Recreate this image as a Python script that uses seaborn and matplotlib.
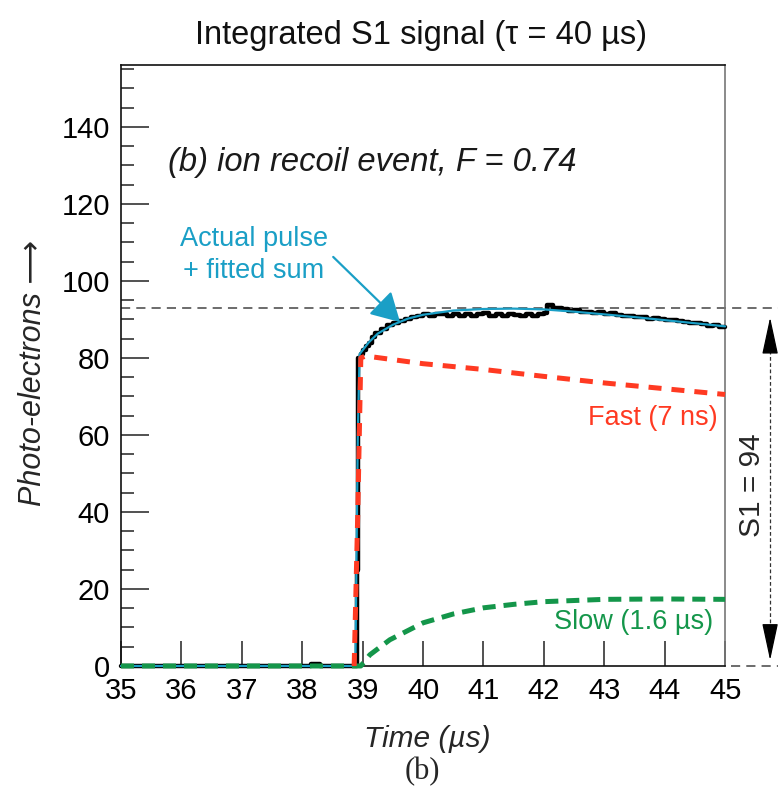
import matplotlib
matplotlib.use("Agg")
import matplotlib.pyplot as plt
import seaborn as sns
import pandas as pd

# -----------------------------------
# DATA
# -----------------------------------
pulse_t = [35.0, 36.0, 37.0, 38.0, 38.15, 38.3, 38.88, 38.9, 38.93, 38.97, 39.0, 39.05,
           39.1, 39.15, 39.2, 39.3, 39.4, 39.5, 39.6, 39.7, 39.8, 39.9, 40.0, 40.1,
           40.2, 40.3, 40.4, 40.5, 40.6, 40.7, 40.8, 40.9, 41.0, 41.1, 41.2, 41.3,
           41.4, 41.5, 41.6, 41.7, 41.8, 41.9, 42.0, 42.05, 42.15, 42.3, 42.4, 42.5,
           42.6, 42.7, 42.8, 42.9, 43.0, 43.1, 43.2, 43.3, 43.4, 43.5, 43.6, 43.7,
           43.8, 43.9, 44.0, 44.1, 44.2, 44.3, 44.4, 44.5, 44.6, 44.7, 44.8, 44.9, 45.0]
pulse_pe = [0.0, 0.0, 0.0, 0.0, 0.5, 0.0, 0.0, 25.0, 80.0, 81.0, 82.0, 83.0,
            84.0, 85.5, 86.5, 87.5, 88.5, 89.0, 89.5, 90.0, 90.5, 91.0, 91.5, 91.0,
            91.5, 91.5, 91.0, 91.5, 91.0, 91.5, 91.0, 91.3, 91.6, 91.0, 91.4, 91.0,
            91.5, 91.2, 90.8, 91.3, 91.0, 91.4, 91.6, 93.8, 93.0, 92.6, 92.3, 92.4,
            92.0, 91.9, 91.6, 91.8, 91.3, 91.6, 91.2, 90.9, 91.0, 90.5, 90.7, 90.2,
            90.4, 90.0, 89.8, 89.9, 89.5, 89.3, 89.0, 89.1, 88.7, 88.4, 88.5, 88.1, 88.0]

fit_t = [35.0, 38.88, 38.92, 38.95, 39.0, 39.1, 39.25, 39.5, 39.75, 40.0, 40.5,
         41.0, 41.5, 42.0, 42.5, 43.0, 43.5, 44.0, 44.5, 45.0]
fit_pe = [0.0, 0.0, 60.0, 81.0, 82.0, 84.0, 86.3, 88.6, 90.2, 91.2, 92.3,
          92.7, 92.8, 92.6, 92.0, 91.3, 90.6, 89.8, 89.0, 88.2]

fast_t = [38.86, 38.92, 38.97, 39.05, 40.0, 41.0, 42.0, 43.0, 44.0, 45.0]
fast_pe = [0.0, 40.0, 80.0, 80.5, 78.5, 77.0, 75.2, 73.5, 72.0, 70.5]

slow_t = [35.0, 38.97, 39.12, 39.45, 40.0, 40.5, 41.0, 41.5, 42.0, 43.0, 44.0, 45.0]
slow_pe = [0.0, 0.0, 2.9, 6.8, 11.2, 13.5, 15.1, 16.0, 16.7, 17.3, 17.4, 17.3]

s1_level = 93.0
s1_label = "S1 = 94"
x_ticks = [35, 36, 37, 38, 39, 40, 41, 42, 43, 44, 45]
y_ticks = [0, 20, 40, 60, 80, 100, 120, 140]

# -----------------------------------
# VISUAL SETTINGS
# -----------------------------------
sns.set_style("ticks")
plt.rcParams["font.family"] = ["Liberation Sans", "DejaVu Sans"]

CYAN = "#1a9fc6"
RED = "#ff3a22"
GREEN = "#14964a"

fig, ax = plt.subplots(figsize=(7.78, 7.86), dpi=100)
fig.subplots_adjust(left=0.1555, right=0.932, bottom=0.1527, top=0.917)

pulse = pd.DataFrame({"t": pulse_t, "pe": pulse_pe})
fit = pd.DataFrame({"t": fit_t, "pe": fit_pe})
fast = pd.DataFrame({"t": fast_t, "pe": fast_pe})
slow = pd.DataFrame({"t": slow_t, "pe": slow_pe})

# -----------------------------------
# CURVES
# -----------------------------------
sns.lineplot(data=pulse, x="t", y="pe", ax=ax, color="black", lw=3.2,
             drawstyle="steps-post", estimator=None, sort=False, clip_on=False, zorder=3)
sns.lineplot(data=fit, x="t", y="pe", ax=ax, color=CYAN, lw=1.6,
             estimator=None, sort=False, clip_on=False, zorder=4)
sns.lineplot(data=slow, x="t", y="pe", ax=ax, color=GREEN, lw=3.6,
             linestyle=(0, (2.6, 1.6)), estimator=None, sort=False, clip_on=False, zorder=5)
sns.lineplot(data=fast, x="t", y="pe", ax=ax, color=RED, lw=3.6,
             linestyle=(0, (2.6, 2.0)), estimator=None, sort=False, clip_on=False, zorder=6)

# S1 level lines and double arrow
ax.plot([35, 45.9], [s1_level, s1_level], color="#444444", lw=1.1,
        linestyle=(0, (6, 4)), clip_on=False, zorder=2)
ax.plot([45.1, 45.9], [0, 0], color="#444444", lw=1.1,
        linestyle=(0, (6, 4)), clip_on=False, zorder=2)
ax.plot([45.745, 45.745], [3, 89], color="#333333", lw=0.9,
        linestyle=(0, (3, 2)), clip_on=False)
for tip, tail in [(90.5, 85), (1.5, 7)]:
    ax.annotate("", xy=(45.745, tip), xytext=(45.745, tail), annotation_clip=False,
                arrowprops=dict(arrowstyle="-|>,head_length=1.3,head_width=0.28",
                                color="black", lw=0.9, mutation_scale=18,
                                shrinkA=0, shrinkB=0))
ax.text(45.44, 47, s1_label, rotation=90, ha="center", va="center", fontsize=21.5,
        clip_on=False)

# -----------------------------------
# TEXT
# -----------------------------------
ax.text(35.78, 130.8, "(b) ion recoil event, F = 0.74", fontsize=23.6, style="italic",
        ha="left", va="center", color="#1a1a1a")
ax.annotate("Actual pulse\n+ fitted sum", xy=(39.62, 89.3), xytext=(37.2, 106.8),
            fontsize=19.5, color=CYAN, ha="center", va="center", multialignment="center",
            linespacing=1.3,
            arrowprops=dict(arrowstyle="-|>,head_length=0.8,head_width=0.45", color=CYAN,
                            lw=1.6, mutation_scale=22, shrinkA=2, shrinkB=0,
                            relpos=(1.0, 0.55)))
ax.text(44.88, 64.5, "Fast (7 ns)", color=RED, fontsize=19.5, ha="right", va="center")
ax.text(44.8, 11.5, "Slow (1.6 µs)", color=GREEN, fontsize=19.5, ha="right", va="center")

fig.text(0.541, 0.955, "Integrated S1 signal (τ = 40 µs)", fontsize=23.5,
         ha="center", va="center", color="#111111")
fig.text(0.543, 0.018, "(b)", fontsize=22, family="Liberation Serif",
         ha="center", va="center")

ax.set_xlabel("Time (µs)", fontsize=21.5, style="italic")
ax.xaxis.set_label_coords(0.507, -0.099)
ax.set_ylabel("Photo-electrons ⟶", fontsize=22, style="italic")
ax.yaxis.set_label_coords(-0.12, 0.4875)

# -----------------------------------
# AXES
# -----------------------------------
ax.set_xlim(35, 45)
ax.set_ylim(0, 156)
ax.set_xticks(x_ticks)
ax.set_yticks(y_ticks)
ax.set_yticks(range(0, 156, 5), minor=True)
ax.tick_params(axis="x", direction="in", length=18, width=1.1, labelsize=21, pad=8,
               colors="#222222", labelcolor="black")
ax.tick_params(axis="y", which="major", direction="in", length=20, width=1.1,
               labelsize=21, pad=8, colors="#222222", labelcolor="black")
ax.tick_params(axis="y", which="minor", direction="in", length=9.5, width=1.1,
               colors="#222222")
for side in ["left", "top", "bottom"]:
    ax.spines[side].set_color("#111111")
    ax.spines[side].set_linewidth(1.2)
ax.spines["right"].set_color("#777777")
ax.spines["right"].set_linewidth(1.2)

fig.savefig("out.png", dpi=100)
